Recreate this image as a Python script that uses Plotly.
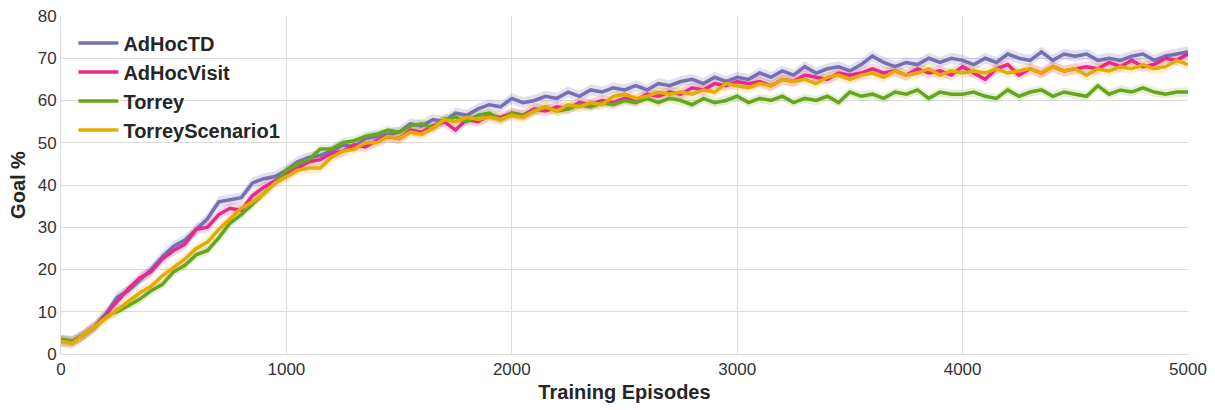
import plotly.graph_objects as go

episodes = list(range(0, 5001, 50))

adhoc_td = [3.2, 3.0, 4.5, 6.5, 9.5, 13.5, 15, 17.5, 20, 23, 25.5, 27, 29.5, 32, 36, 36.5, 37, 40.5, 41.5, 42,
            43.5, 45.5, 46.5, 47, 48, 49.5, 49, 51, 51.5, 52, 52.5, 54.5, 54, 55.5, 55, 57, 56.5, 58, 59, 58.5,
            60.5, 59.5, 60, 61, 60.5, 62, 61, 62.5, 62, 63, 62.5, 63.5, 62.5, 64, 63.5, 64.5, 65, 64, 65.5, 64.5,
            65.5, 65, 66.5, 65.5, 67, 66, 68, 66.5, 67.5, 68, 67, 68.5, 70.5, 69, 68, 69, 68.5, 70, 69, 70,
            69.5, 68.5, 70, 69, 71, 70, 69.5, 71.5, 69.5, 71, 70.5, 71, 69.5, 70, 69.5, 70.5, 71, 69.5, 70.5, 71,
            71.5]

adhoc_visit = [3.0, 2.8, 4.5, 6.5, 9.5, 12.5, 15.5, 18, 19.5, 22.5, 24.5, 26, 29.5, 30, 33, 34.5, 34, 37.5, 39.5, 41,
               42.5, 44, 45.5, 46, 47.5, 48, 49.5, 49, 50.5, 51.5, 51, 53, 52.5, 54, 55, 53, 55.5, 55, 56.5, 56,
               57, 56.5, 58, 57.5, 58.5, 58, 59.5, 59, 60, 59.5, 60.5, 60, 61.5, 61, 62, 61.5, 63, 62.5, 64, 63.5,
               64.5, 64, 64.5, 63.5, 65, 64.5, 66, 65.5, 65, 66.5, 66, 66.5, 67.5, 66.5, 67, 66, 67.5, 66.5, 67, 66,
               68, 66.5, 65, 67.5, 68.5, 66, 67.5, 66.5, 68, 67, 67.5, 68, 67.5, 69, 68, 69.5, 68, 68.5, 70, 69.5,
               71]

torrey = [3.5, 3.0, 4.5, 6.5, 9, 10, 11.5, 13, 15, 16.5, 19.5, 21, 23.5, 24.5, 27.5, 31, 33, 35.5, 38, 40.5,
          43.5, 45, 46, 48.5, 48.5, 50, 50.5, 51.5, 52, 53, 52.5, 54, 54.5, 53.5, 55.5, 56, 55, 56.5, 57, 55.5,
          57, 56.5, 57.5, 58.5, 57.5, 58, 59, 58.5, 59.5, 59, 60, 59.5, 60.5, 59.5, 60.5, 60, 59, 60.5, 59.5, 60,
          61, 59.5, 60.5, 60, 61, 59.5, 60.5, 60, 61, 59.5, 62, 61, 61.5, 60.5, 62, 61.5, 62.5, 60.5, 62, 61.5,
          61.5, 62, 61, 60.5, 62.5, 61, 62, 62.5, 61, 62, 61.5, 61, 63.5, 61.5, 62.5, 62, 63, 62, 61.5, 62,
          62]

torrey_scenario1 = [3.0, 2.5, 4.5, 6.5, 8.5, 10.5, 12.5, 14.5, 16, 18.5, 20.5, 22.5, 25, 26.5, 29.5, 32, 34.5, 36, 38, 40.5,
                    42, 43.5, 44, 44, 46.5, 48, 48.5, 50, 50, 51.5, 51, 52.5, 52, 53.5, 55.5, 55, 56, 55.5, 56, 55.5,
                    56.5, 56, 57.5, 58.5, 57.5, 59, 58.5, 59.5, 59, 61, 61.5, 60.5, 61, 62, 61.5, 62, 61.5, 62.5, 62, 64,
                    63.5, 63, 64, 63.5, 65, 64.5, 65, 64, 65.5, 66, 65, 66, 66.5, 65.5, 67, 66, 66.5, 67.5, 66, 67,
                    66.5, 67, 66.5, 67.5, 66.5, 67, 67.5, 66.5, 68, 67, 67.5, 66, 67.5, 67, 68, 67.5, 68.5, 67.5, 68, 69.5,
                    68.5]

series_names = ["AdHocTD", "AdHocVisit", "Torrey", "TorreyScenario1"]
series_values = [adhoc_td, adhoc_visit, torrey, torrey_scenario1]
ci_halfwidth = [1.3, 1.3, 1.1, 1.3]
colors = ["#7570b3", "#e7298a", "#66a61e", "#e6ab02"]
band_colors = ["rgba(117,112,179,0.22)", "rgba(231,41,138,0.18)",
               "rgba(102,166,30,0.18)", "rgba(230,171,2,0.18)"]

fig = go.Figure()
for name, vals, ci, bc in zip(series_names, series_values, ci_halfwidth, band_colors):
    upper = [v + ci for v in vals]
    lower = [v - ci for v in vals]
    fig.add_trace(go.Scatter(x=episodes + episodes[::-1], y=upper + lower[::-1],
                             fill="toself", fillcolor=bc, line=dict(width=0),
                             hoverinfo="skip", showlegend=False))
for name, vals, c in zip(series_names, series_values, colors):
    fig.add_trace(go.Scatter(x=episodes, y=vals, mode="lines", name=name,
                             line=dict(color=c, width=3.5)))

fig.update_layout(
    width=1215, height=410,
    margin=dict(l=61, r=27, t=16, b=56, autoexpand=False),
    paper_bgcolor="white", plot_bgcolor="white",
    font=dict(family="Liberation Sans, Arial, sans-serif", size=17, color="#333333"),
    legend=dict(x=0.011, y=0.978, xanchor="left", yanchor="top",
                bgcolor="rgba(0,0,0,0)",
                font=dict(size=20, color="#262626", family="Liberation Sans, Arial, sans-serif", weight="bold"),
                tracegroupgap=0, itemwidth=40),
    xaxis=dict(range=[0, 5000], tickvals=[0, 1000, 2000, 3000, 4000, 5000],
               showgrid=True, gridcolor="#dcdcdc", gridwidth=1.2, zeroline=False,
               showline=True, linecolor="#dcdcdc", mirror=False, automargin=False,
               title=dict(text="<b>Training Episodes</b>", font=dict(size=20, color="#262626"), standoff=6),
               tickfont=dict(size=17, color="#333333")),
    yaxis=dict(range=[0, 80], tickvals=list(range(0, 81, 10)),
               showgrid=True, gridcolor="#dcdcdc", gridwidth=1.2, zeroline=False,
               showline=True, linecolor="#dcdcdc", automargin=False,
               title=dict(text="<b>Goal %</b>", font=dict(size=20, color="#262626"), standoff=6),
               tickfont=dict(size=17, color="#333333")),
)

fig.write_html("out.html", config={"displayModeBar": False},
               post_script="document.body.style.margin='0px';")
